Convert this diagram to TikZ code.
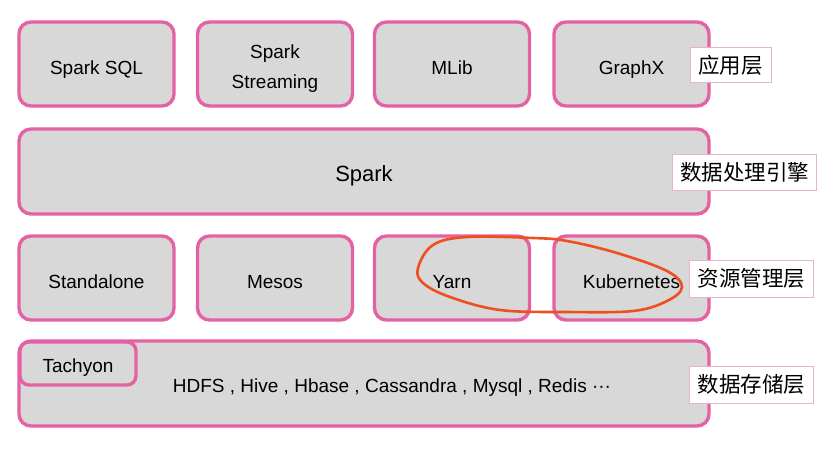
\documentclass[tikz,border=0pt]{standalone}
\usepackage{fontspec}
\setmainfont{Liberation Sans}
\newfontfamily\cjk{Noto Sans CJK SC}
\definecolor{pinkline}{RGB}{228,98,163}
\definecolor{pinklight}{RGB}{236,175,205}
\definecolor{boxgray}{RGB}{216,216,216}
\definecolor{redpen}{RGB}{238,78,32}
\tikzset{
  layerbox/.style={draw=pinkline, line width=3.4pt, fill=boxgray, rounded corners=12pt,
    inner sep=0pt, font=\fontsize{19}{22}\selectfont, text height=21pt, text depth=0pt},
  tagbox/.style={draw=pinklight, line width=0.9pt, fill=white, inner sep=0pt,
    font=\cjk\fontsize{21.5}{24}\selectfont},
  plaintext/.style={inner sep=0pt, font=\fontsize{19}{30}\selectfont, align=center},
  circled/.style={draw=redpen, line width=2.6pt, line join=round}
}
\begin{document}
\begin{tikzpicture}[x=1pt,y=-1pt]
\useasboundingbox[fill=white] (0,0) rectangle (825,449);
% application layer
\node[layerbox, minimum width=155pt, minimum height=84pt] (sql) at (96.5,64) {Spark SQL};
\node[layerbox, minimum width=155pt, minimum height=84pt] (stream) at (275,64) {};
\node[plaintext] (streamtxt) at (275,69) {Spark\\Streaming};
\node[layerbox, minimum width=155pt, minimum height=84pt] (mlib) at (452,64) {MLib};
\node[layerbox, minimum width=155pt, minimum height=84pt] (graphx) at (631.5,64) {GraphX};
\node[tagbox, minimum width=81pt, minimum height=35pt] (tapp) at (730.5,65) {应用层};
% engine
\node[layerbox, minimum width=690pt, minimum height=85pt, font=\fontsize{22}{24}\selectfont] (spark) at (364,171.5) {Spark};
\node[tagbox, minimum width=144pt, minimum height=36pt] (teng) at (744.5,172.5) {数据处理引擎};
% resource layer
\node[layerbox, minimum width=155pt, minimum height=84pt] (standalone) at (96.5,278) {Standalone};
\node[layerbox, minimum width=155pt, minimum height=84pt] (mesos) at (275,278) {Mesos};
\node[layerbox, minimum width=155pt, minimum height=84pt] (yarn) at (452,278) {Yarn};
\node[layerbox, minimum width=155pt, minimum height=84pt] (k8s) at (631.5,278) {Kubernetes};
\node[tagbox, minimum width=124pt, minimum height=37pt] (tres) at (751.5,278.5) {资源管理层};
% storage layer
\node[layerbox, minimum width=690pt, minimum height=85pt] (storage) at (364,383.5) {};
\node[layerbox, minimum width=116pt, minimum height=43pt, rounded corners=9pt, text height=18pt] (tachyon) at (78,363.5) {Tachyon};
\node[plaintext, anchor=base] (hdfs) at (392,392) {HDFS , Hive , Hbase , Cassandra , Mysql , Redis \textperiodcentered\textperiodcentered\textperiodcentered};
\node[tagbox, minimum width=124pt, minimum height=37pt] (tsto) at (751.5,384.5) {数据存储层};
% hand-drawn circle around Yarn and Kubernetes
\draw[circled] plot[smooth cycle, tension=0.6] coordinates {
  (418,268) (433,245) (467,237) (533,238) (567,241) (617,253) (667,271) (682,287)
  (667,301) (633,311) (567,312) (500,310) (450,297) (423,283)};
\end{tikzpicture}
\end{document}
